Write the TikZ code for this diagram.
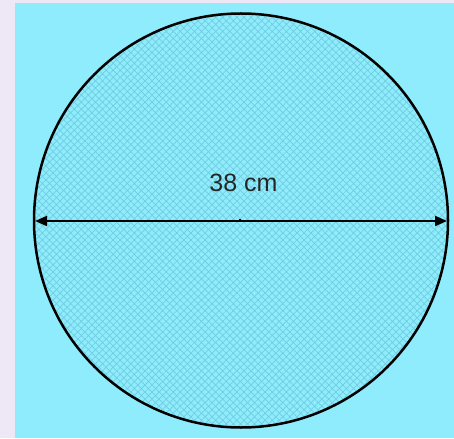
\documentclass[tikz,border=0pt]{standalone}
\usepackage{fontspec}
\setmainfont{Liberation Sans}
\usetikzlibrary{arrows.meta,patterns.meta}
\definecolor{lav}{HTML}{EEE7F5}
\definecolor{cyanbg}{HTML}{8EECFC}
\definecolor{hatchc}{HTML}{70CDE2}
\tikzset{
  disc/.style={draw=black, line width=2.5pt},
  hatchfill/.style={pattern={Hatch[angle=45,distance=5pt,line width=0.7pt]}, pattern color=hatchc},
  dimline/.style={line width=1.9pt, {Triangle[length=12pt,width=10pt]}-{Triangle[length=12pt,width=10pt]}},
  lbl/.style={font=\fontsize{25}{28}\selectfont, text=black!85}
}
\begin{document}
\begin{tikzpicture}[x=1pt,y=-1pt]
\useasboundingbox (0,0) rectangle (454,438);
\fill[lav] (0,0) rectangle (454,438);
\fill[cyanbg] (15,3) rectangle (454,438);
\coordinate (c) at (241,220.5);
\fill[hatchfill] (c) circle[radius=207];
\draw[disc] (c) circle[radius=207];
\coordinate (l) at (35,221);
\coordinate (r) at (447,221);
\draw[dimline] (l) -- (r);
\draw[line width=1.2pt] (240,221) -- (240,218.5);
\node[lbl] (t) at (243.5,183) {38 cm};
\end{tikzpicture}
\end{document}
